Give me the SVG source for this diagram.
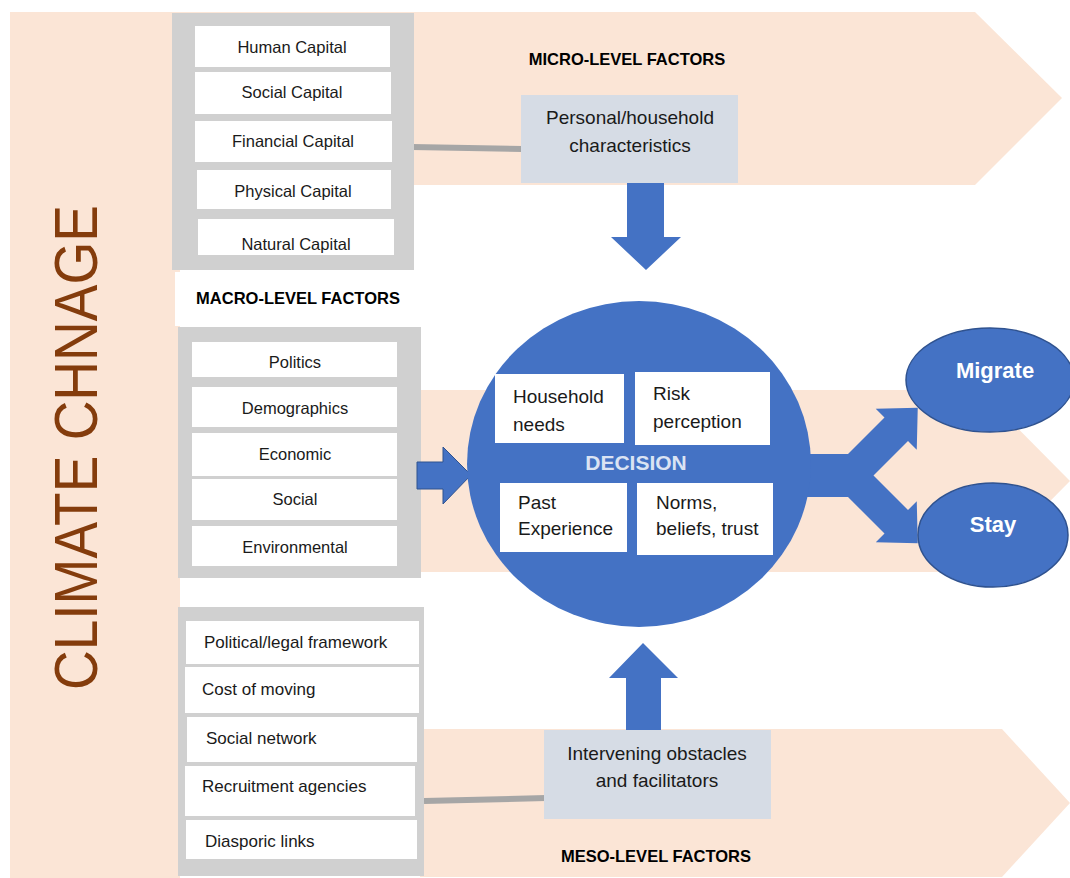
<svg xmlns="http://www.w3.org/2000/svg" width="1070" height="878" viewBox="0 0 1070 878">
<style>
.band{fill:#FBE5D6}
.grey{fill:#D0D0D0}
.wbox{fill:#FFFFFF}
.bbox{fill:#D6DCE5}
.blue{fill:#4472C4}
.t{font-family:"Liberation Sans",Arial,sans-serif;fill:#1a1a1a}
.c16{font-size:16.5px;text-anchor:middle}
.l17{font-size:17px}
.h{font-family:"Liberation Sans",Arial,sans-serif;font-size:16.5px;font-weight:bold;text-anchor:middle;fill:#000}
.m19{font-size:19px;text-anchor:middle}
.in{font-size:19px}
.conn{stroke:#A6A6A6;stroke-width:6;fill:none}
.ell{fill:#4472C4;stroke:#2F528F;stroke-width:1.5}
.wt{font-family:"Liberation Sans",Arial,sans-serif;font-weight:bold;fill:#FFFFFF;text-anchor:middle}
</style>
<rect width="1070" height="878" fill="#FFFFFF"/>
<g id="bands">
<rect class="band" x="10" y="12" width="170" height="866"/>
<polygon class="band" points="170,12 975,12 1062,98 975,185 170,185"/>
<polygon class="band" points="420,390 980,390 1070,481 980,572 420,572"/>
<polygon class="band" points="420,729 1002,729 1070,803 1002,877 420,877"/>
<text x="97" y="690" transform="rotate(-90 97 690)" font-family="'Liberation Sans',Arial,sans-serif" font-size="62" fill="#843C0C" textLength="485" lengthAdjust="spacingAndGlyphs">CLIMATE CHNAGE</text>
</g>
<g id="connectors">
<line class="conn" x1="412" y1="147" x2="522" y2="149"/>
<line class="conn" x1="424" y1="801" x2="546" y2="798"/>
</g>
<g id="micro-capitals">
<rect class="grey" x="172" y="13" width="242" height="257"/>
<rect class="wbox" x="195" y="26" width="195" height="41"/>
<rect class="wbox" x="195" y="72" width="196" height="42"/>
<rect class="wbox" x="195" y="121" width="197" height="41"/>
<rect class="wbox" x="197" y="170" width="194" height="39"/>
<rect class="wbox" x="198" y="219" width="196" height="36"/>
<text class="t c16" x="292" y="53">Human Capital</text>
<text class="t c16" x="292" y="98">Social Capital</text>
<text class="t c16" x="293" y="147">Financial Capital</text>
<text class="t c16" x="293" y="197">Physical Capital</text>
<svg x="198" y="219" width="196" height="36" overflow="hidden"><text class="t c16" x="98" y="31">Natural Capital</text></svg>
</g>
<g id="macro-label">
<rect fill="#FFFFFF" x="175" y="272" width="241" height="54"/>
<text class="h" x="298" y="304">MACRO-LEVEL FACTORS</text>
</g>
<g id="micro-label">
<text class="h" x="627" y="65">MICRO-LEVEL FACTORS</text>
</g>
<g id="personal">
<rect class="bbox" x="521" y="95" width="217" height="88"/>
<text class="t m19" x="630" y="124">Personal/household</text>
<text class="t m19" x="630" y="152">characteristics</text>
</g>
<g id="macro-factors">
<rect class="grey" x="178" y="327" width="243" height="251"/>
<rect class="wbox" x="192" y="342" width="205" height="35"/>
<rect class="wbox" x="192" y="387" width="205" height="40"/>
<rect class="wbox" x="192" y="433" width="205" height="43"/>
<rect class="wbox" x="192" y="479" width="205" height="41"/>
<rect class="wbox" x="192" y="526" width="205" height="40"/>
<text class="t c16" x="295" y="368">Politics</text>
<text class="t c16" x="295" y="414">Demographics</text>
<text class="t c16" x="295" y="460">Economic</text>
<text class="t c16" x="295" y="505">Social</text>
<text class="t c16" x="295" y="553">Environmental</text>
</g>
<g id="meso-factors">
<rect class="grey" x="178" y="607" width="246" height="269"/>
<rect class="wbox" x="186" y="621" width="233" height="43"/>
<rect class="wbox" x="185" y="667" width="234" height="46"/>
<rect class="wbox" x="187" y="717" width="230" height="45"/>
<rect class="wbox" x="185" y="766" width="230" height="50"/>
<rect class="wbox" x="186" y="820" width="231" height="39"/>
<text class="t l17" x="204" y="648">Political/legal framework</text>
<text class="t l17" x="202" y="695">Cost of moving</text>
<text class="t l17" x="206" y="744">Social network</text>
<text class="t l17" x="202" y="792">Recruitment agencies</text>
<text class="t l17" x="205" y="847">Diasporic links</text>
</g>
<g id="intervening">
<rect class="bbox" x="544" y="730" width="227" height="89"/>
<text class="t m19" x="657" y="760">Intervening obstacles</text>
<text class="t m19" x="657" y="787">and facilitators</text>
</g>
<g id="meso-label">
<text class="h" x="656" y="862">MESO-LEVEL FACTORS</text>
</g>
<g id="arrows">
<polygon class="blue" points="627,183 664,183 664,237 681,237 646,270 611,237 627,237"/>
<polygon class="blue" points="626,730 661,730 661,678 678,678 643,643 609,678 626,678"/>
<polygon class="blue" points="417,462 443,462 443,447 471,475 443,504 443,489 417,489" stroke="#2F528F" stroke-width="1"/>
<polygon class="blue" points="790,454 848,454 884.5,417.5 875.75,408.75 917.75,407.75 916.75,449.75 908,441 873.5,475.5 908,510 916.75,501.25 917.75,543.25 875.75,542.25 884.5,533.5 848,497 790,497"/>
</g>
<g id="decision">
<ellipse class="blue" cx="639" cy="464" rx="172" ry="163"/>
<rect class="wbox" x="495" y="374" width="129" height="69"/>
<rect class="wbox" x="635" y="372" width="135" height="73"/>
<rect class="wbox" x="500" y="483" width="127" height="69"/>
<rect class="wbox" x="637" y="483" width="136" height="72"/>
<text class="t in" x="513" y="403">Household</text>
<text class="t in" x="513" y="431">needs</text>
<text class="t in" x="653" y="400">Risk</text>
<text class="t in" x="653" y="428">perception</text>
<text class="t in" x="518" y="509">Past</text>
<text class="t in" x="518" y="535">Experience</text>
<text class="t in" x="656" y="509">Norms,</text>
<text class="t in" x="656" y="535">beliefs, trust</text>
<text x="636" y="470" font-family="'Liberation Sans',Arial,sans-serif" font-size="21" font-weight="bold" fill="#DAE3F3" text-anchor="middle">DECISION</text>
</g>
<g id="migrate">
<ellipse class="ell" cx="990" cy="380" rx="84" ry="52"/>
<text class="wt" x="995" y="378" font-size="22">Migrate</text>
</g>
<g id="stay">
<ellipse class="ell" cx="993" cy="535" rx="75" ry="52"/>
<text class="wt" x="993" y="532" font-size="22">Stay</text>
</g>
</svg>
